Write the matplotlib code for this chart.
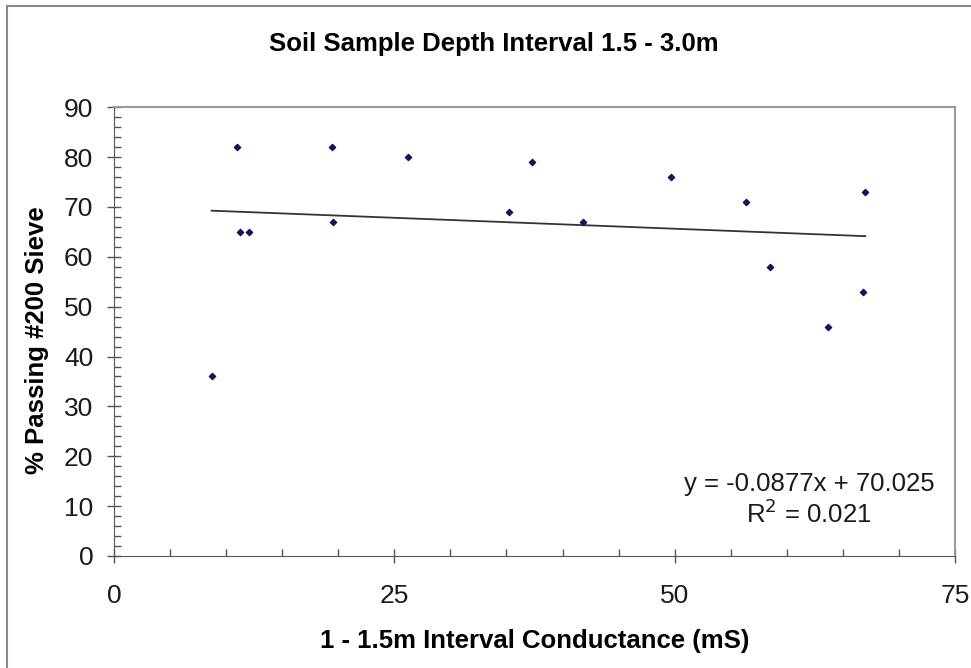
import numpy as np
import matplotlib
matplotlib.use("Agg")
import matplotlib.pyplot as plt
from matplotlib.lines import Line2D
from matplotlib.ticker import MultipleLocator

plt.rcParams['font.family'] = ['Liberation Sans', 'DejaVu Sans']

# conductance (mS) vs % passing #200 sieve
conductance = [8.7, 11.0, 11.2, 12.0, 19.4, 19.5, 26.2, 35.2, 37.3,
               41.8, 49.7, 56.4, 58.5, 63.7, 66.8, 67.0]
passing = [36, 82, 65, 65, 82, 67, 80, 69, 79,
           67, 76, 71, 58, 46, 53, 73]

# trendline as reported on the chart
slope = -0.0877
intercept = 70.025
r_squared = 0.021

fig = plt.figure(figsize=(9.71, 6.68), dpi=100)
ax = fig.add_axes([0.1174, 0.1677, 0.8661, 0.6717])

ax.scatter(conductance, passing, marker='D', s=10, color='#14145a', zorder=3)

x_fit = np.array([min(conductance), max(conductance)])
ax.plot(x_fit, slope * x_fit + intercept, color='#333333', linewidth=1.3)

ax.set_xlim(0, 75)
ax.set_ylim(0, 90)
ax.xaxis.set_major_locator(MultipleLocator(25))
ax.xaxis.set_minor_locator(MultipleLocator(5))
ax.yaxis.set_major_locator(MultipleLocator(10))
ax.yaxis.set_minor_locator(MultipleLocator(2))
ax.tick_params(which='major', direction='inout', length=10, width=1,
               color='#555555', labelsize=19, pad=10, labelcolor='#1a1a1a')
ax.tick_params(which='minor', direction='in', length=5, width=1, color='#555555')
ax.tick_params(axis='x', which='major', pad=15)

for side in ['left', 'bottom']:
    ax.spines[side].set_color('#555555')
for side in ['top', 'right']:
    ax.spines[side].set_color('#999999')
    ax.spines[side].set_linewidth(1.5)

ax.set_xlabel('1 - 1.5m Interval Conductance (mS)', fontsize=18.5,
              fontweight='bold', labelpad=15)
ax.set_ylabel('% Passing #200 Sieve', fontsize=18.5, fontweight='bold')
ax.yaxis.set_label_coords(-0.0773, 0.482)

fig.text(494 / 971, 1 - 44 / 668, 'Soil Sample Depth Interval 1.5 - 3.0m',
         ha='center', va='center', fontsize=18.5, fontweight='bold')

ax.text(62.0, 11.2, 'y = %.4fx + %.3f\nR$^2$ = %.3f' % (slope, intercept, r_squared),
        ha='center', va='center', fontsize=18.5, linespacing=1.15, color='#1a1a1a')

# outer chart frame (left and top edges visible)
fig.add_artist(Line2D([7 / 971, 7 / 971], [0, 1 - 6 / 668], transform=fig.transFigure,
                      color='#888888', linewidth=1.5))
fig.add_artist(Line2D([7 / 971, 1], [1 - 6 / 668, 1 - 6 / 668], transform=fig.transFigure,
                      color='#888888', linewidth=1.5))

fig.savefig('out.png', dpi=100)
